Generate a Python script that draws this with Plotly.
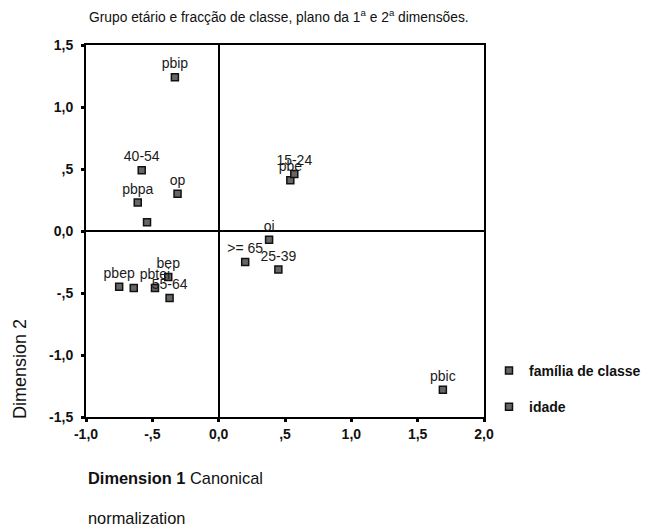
import plotly.graph_objects as go

# Data: class fractions ("família de classe")
classe_labels = ["pbip", "op", "pbpa", "", "pbe", "oi", "pbep", "", "pbtei", "bep", "pbic"]
classe_x = [-0.33, -0.31, -0.61, -0.54, 0.54, 0.38, -0.75, -0.64, -0.48, -0.38, 1.69]
classe_y = [1.24, 0.30, 0.23, 0.07, 0.41, -0.07, -0.45, -0.46, -0.46, -0.37, -1.28]

# Data: age groups ("idade")
idade_labels = ["40-54", "15-24", ">= 65", "25-39", "55-64"]
idade_x = [-0.58, 0.57, 0.20, 0.45, -0.37]
idade_y = [0.49, 0.46, -0.25, -0.31, -0.54]

x_tickvals = [-1.0, -0.5, 0.0, 0.5, 1.0, 1.5, 2.0]
x_ticktext = ["-1,0", "-,5", "0,0", ",5", "1,0", "1,5", "2,0"]
y_tickvals = [1.5, 1.0, 0.5, 0.0, -0.5, -1.0, -1.5]
y_ticktext = ["1,5", "1,0", ",5", "0,0", "-,5", "-1,0", "-1,5"]

FONT = "Liberation Sans, Arial, sans-serif"
label_font = dict(family=FONT, size=14, color="#1a1a1a")

fig = go.Figure()
fig.add_trace(go.Scatter(
    x=classe_x, y=classe_y, text=classe_labels, mode="markers+text",
    textposition="top center", textfont=label_font,
    marker=dict(symbol="square", size=7, color="#666", line=dict(color="#111", width=1.5)),
    name="família de classe", legendgroup="a", cliponaxis=False,
))
fig.add_trace(go.Scatter(
    x=idade_x, y=idade_y, text=idade_labels, mode="markers+text",
    textposition="top center", textfont=label_font,
    marker=dict(symbol="square", size=7, color="#666", line=dict(color="#111", width=1.5)),
    name="idade", legendgroup="b", cliponaxis=False,
))

axis_common = dict(
    showgrid=False, zeroline=True, zerolinecolor="black", zerolinewidth=2,
    showline=True, linecolor="black", linewidth=2, mirror=True,
    ticks="outside", ticklen=3, tickwidth=3, tickcolor="black",
    tickfont=dict(family=FONT, size=14, color="#111", weight="bold"),
    tickmode="array",
)

W, H = 642, 520  # page body has an 8px margin, so the figure sits at (8, 8)

fig.update_layout(
    width=W, height=H,
    margin=dict(l=78, r=166, t=37, b=111, autoexpand=False),
    paper_bgcolor="white", plot_bgcolor="white",
    xaxis=dict(range=[-1.0, 2.0], tickvals=x_tickvals, ticktext=x_ticktext,
               ticklabelstandoff=0, **axis_common),
    yaxis=dict(range=[-1.5, 1.5], tickvals=y_tickvals, ticktext=y_ticktext,
               ticklabelstandoff=5, **axis_common),
    showlegend=True,
    legend=dict(
        xref="container", yref="container",
        x=481 / W, xanchor="left", y=1 - 347 / H, yanchor="top",
        font=dict(family=FONT, size=14, color="#111", weight="bold"),
        tracegroupgap=15, bgcolor="rgba(0,0,0,0)",
    ),
    annotations=[
        dict(text="Grupo etário e fracção de classe, plano da 1<sup>a</sup> e 2<sup>a</sup> dimensões.",
             xref="paper", yref="paper", x=(87 - 86) / 398, y=1 + (45 - 16) / 372,
             xanchor="left", yanchor="middle", showarrow=False,
             font=dict(family=FONT, size=13.8, color="#111")),
        dict(text="Dimension 2", xref="paper", yref="paper",
             x=(20 - 86) / 398, y=(417 - 369) / 372, textangle=-90,
             xanchor="center", yanchor="middle", showarrow=False,
             font=dict(family=FONT, size=18, color="#111")),
        dict(text="<b>Dimension 1</b> Canonical", xref="paper", yref="paper",
             x=(86 - 86) / 398, y=-(478 - 417) / 372,
             xanchor="left", yanchor="middle", showarrow=False,
             font=dict(family=FONT, size=16.4, color="#111")),
        dict(text="normalization", xref="paper", yref="paper",
             x=(86 - 86) / 398, y=-(518 - 417) / 372,
             xanchor="left", yanchor="middle", showarrow=False,
             font=dict(family=FONT, size=16.4, color="#111")),
    ],
)

fig.write_html("out.html")
